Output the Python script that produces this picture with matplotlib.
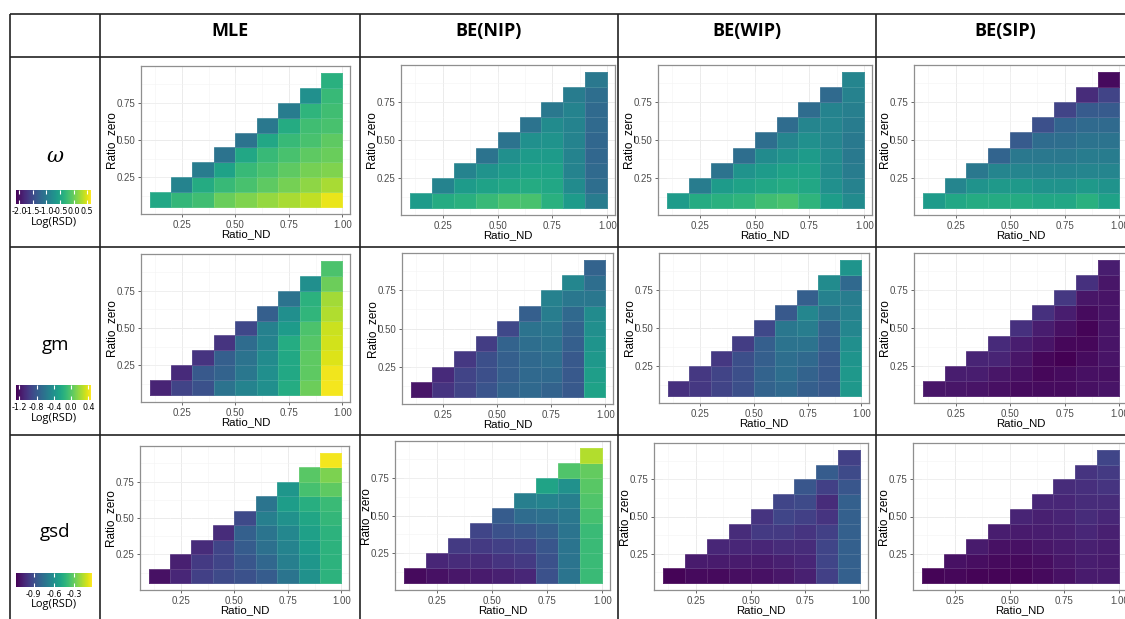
import numpy as np
import matplotlib.pyplot as plt
from matplotlib.colors import Normalize
from matplotlib.cm import ScalarMappable

plt.rcParams['axes.unicode_minus'] = False

W, H = 1125, 619

# grid of simulation settings
nd_centers = [0.15, 0.25, 0.35, 0.45, 0.55, 0.65, 0.75, 0.85, 0.95]
zero_centers = [0.1, 0.2, 0.3, 0.4, 0.5, 0.6, 0.7, 0.8, 0.9]

methods = ['MLE', 'BE(NIP)', 'BE(WIP)', 'BE(SIP)']
param_labels = ['ω', 'gm', 'gsd']

# Log(RSD), one list per Ratio_ND column, from Ratio_zero = 0.1 upward
mle_omega = [
    [-0.48],
    [-0.29, -0.89],
    [-0.21, -0.43, -0.97],
    [0.01, -0.26, -0.53, -1.07],
    [0.11, -0.16, -0.26, -0.48, -1.07],
    [0.20, -0.05, -0.16, -0.26, -0.48, -1.02],
    [0.28, 0.06, -0.05, -0.16, -0.26, -0.43, -0.97],
    [0.38, 0.17, 0.06, -0.05, -0.16, -0.21, -0.32, -0.75],
    [0.55, 0.28, 0.11, 0.01, -0.05, -0.16, -0.21, -0.26, -0.37],
]
nip_omega = [
    [-0.62],
    [-0.43, -0.89],
    [-0.37, -0.62, -0.89],
    [-0.26, -0.53, -0.70, -1.07],
    [-0.16, -0.48, -0.62, -0.75, -1.07],
    [-0.16, -0.43, -0.53, -0.62, -0.75, -1.07],
    [-0.37, -0.48, -0.53, -0.62, -0.70, -0.80, -1.02],
    [-0.62, -0.80, -0.89, -0.89, -0.89, -0.89, -0.89, -0.97],
    [-0.97, -1.13, -1.18, -1.21, -1.21, -1.18, -1.18, -1.13, -1.02],
]
wip_omega = [
    [-0.62],
    [-0.43, -0.97],
    [-0.37, -0.62, -1.07],
    [-0.32, -0.53, -0.70, -1.13],
    [-0.21, -0.48, -0.62, -0.80, -1.13],
    [-0.16, -0.43, -0.53, -0.70, -0.86, -1.16],
    [-0.32, -0.48, -0.53, -0.62, -0.75, -0.86, -1.16],
    [-0.59, -0.75, -0.80, -0.80, -0.86, -0.86, -0.89, -1.18],
    [-0.80, -0.91, -0.97, -1.00, -1.00, -0.97, -0.94, -0.91, -0.86],
]
sip_omega = [
    [-0.62],
    [-0.48, -0.86],
    [-0.43, -0.70, -1.02],
    [-0.43, -0.64, -0.86, -1.24],
    [-0.43, -0.64, -0.86, -1.02, -1.34],
    [-0.48, -0.70, -0.89, -1.02, -1.16, -1.45],
    [-0.48, -0.70, -0.89, -1.02, -1.13, -1.24, -1.56],
    [-0.37, -0.64, -0.86, -0.97, -1.07, -1.18, -1.34, -1.78],
    [-0.53, -0.70, -0.86, -0.97, -1.07, -1.18, -1.34, -1.56, -2.05],
]

mle_gm = [
    [-1.11],
    [-0.93, -1.07],
    [-0.85, -0.80, -1.02],
    [-0.62, -0.73, -0.76, -1.02],
    [-0.50, -0.59, -0.62, -0.67, -0.90],
    [-0.42, -0.42, -0.45, -0.50, -0.52, -0.76],
    [-0.21, -0.24, -0.24, -0.21, -0.33, -0.42, -0.62],
    [0.07, 0.03, 0.03, 0.00, -0.03, -0.14, -0.17, -0.42],
    [0.43, 0.42, 0.37, 0.34, 0.32, 0.25, 0.22, 0.07, -0.03],
]
nip_gm = [
    [-1.18],
    [-1.02, -1.07],
    [-0.93, -0.93, -1.00],
    [-0.83, -0.86, -0.86, -0.97],
    [-0.73, -0.76, -0.76, -0.73, -0.90],
    [-0.69, -0.69, -0.69, -0.66, -0.62, -0.76],
    [-0.73, -0.69, -0.66, -0.62, -0.59, -0.55, -0.52],
    [-0.80, -0.80, -0.80, -0.76, -0.73, -0.69, -0.59, -0.48],
    [-0.28, -0.31, -0.35, -0.38, -0.42, -0.45, -0.59, -0.66, -0.73],
]
wip_gm = [
    [-1.04],
    [-1.00, -1.00],
    [-0.93, -0.93, -1.00],
    [-0.86, -0.86, -0.86, -0.97],
    [-0.73, -0.73, -0.76, -0.76, -0.90],
    [-0.69, -0.66, -0.66, -0.62, -0.59, -0.80],
    [-0.76, -0.73, -0.69, -0.62, -0.55, -0.48, -0.76],
    [-0.80, -0.80, -0.80, -0.76, -0.73, -0.62, -0.52, -0.45],
    [-0.35, -0.35, -0.38, -0.42, -0.48, -0.52, -0.55, -0.69, -0.38],
]
sip_gm = [
    [-1.18],
    [-1.18, -1.14],
    [-1.19, -1.14, -1.11],
    [-1.21, -1.18, -1.11, -1.07],
    [-1.23, -1.21, -1.18, -1.14, -1.04],
    [-1.23, -1.25, -1.25, -1.19, -1.14, -1.04],
    [-1.23, -1.23, -1.28, -1.25, -1.21, -1.14, -1.00],
    [-1.21, -1.21, -1.23, -1.25, -1.26, -1.23, -1.18, -1.04],
    [-1.19, -1.21, -1.19, -1.19, -1.19, -1.19, -1.19, -1.18, -1.14],
]

mle_gsd = [
    [-1.11],
    [-1.04, -1.06],
    [-0.95, -0.97, -1.02],
    [-0.91, -0.93, -0.93, -1.02],
    [-0.88, -0.86, -0.84, -0.82, -0.91],
    [-0.84, -0.79, -0.75, -0.73, -0.68, -0.73],
    [-0.73, -0.68, -0.66, -0.64, -0.60, -0.54, -0.57],
    [-0.60, -0.57, -0.55, -0.53, -0.50, -0.46, -0.37, -0.33],
    [-0.44, -0.44, -0.44, -0.44, -0.42, -0.40, -0.32, -0.26, -0.06],
]
nip_gsd = [
    [-1.13],
    [-1.11, -1.04],
    [-1.09, -1.02, -0.97],
    [-1.08, -1.02, -0.97, -0.93],
    [-1.06, -0.99, -0.95, -0.88, -0.84],
    [-1.04, -0.97, -0.93, -0.86, -0.77, -0.68],
    [-0.88, -0.88, -0.86, -0.82, -0.75, -0.66, -0.51],
    [-0.73, -0.73, -0.73, -0.73, -0.71, -0.68, -0.60, -0.35],
    [-0.40, -0.40, -0.40, -0.40, -0.37, -0.35, -0.33, -0.31, -0.17],
]
wip_gsd = [
    [-1.15],
    [-1.13, -1.08],
    [-1.13, -1.08, -1.04],
    [-1.12, -1.08, -1.04, -1.02],
    [-1.11, -1.08, -1.04, -0.97, -0.99],
    [-1.09, -1.06, -1.02, -0.97, -0.93, -0.93],
    [-1.06, -1.04, -1.02, -0.99, -0.95, -0.91, -0.86],
    [-0.95, -0.93, -0.93, -0.95, -0.99, -1.02, -0.95, -0.84],
    [-0.82, -0.82, -0.82, -0.82, -0.82, -0.82, -0.86, -0.91, -0.95],
]
sip_gsd = [
    [-1.15],
    [-1.14, -1.11],
    [-1.15, -1.12, -1.08],
    [-1.15, -1.13, -1.11, -1.07],
    [-1.15, -1.13, -1.11, -1.08, -1.05],
    [-1.13, -1.12, -1.09, -1.07, -1.06, -1.04],
    [-1.11, -1.09, -1.08, -1.06, -1.05, -1.04, -1.02],
    [-1.08, -1.07, -1.06, -1.04, -1.02, -1.02, -1.01, -0.99],
    [-1.08, -1.08, -1.07, -1.06, -1.04, -1.02, -0.99, -0.97, -0.93],
]

# shared colour range and colourbar ticks for each parameter row
omega_lim = (-2.12, 0.64)
gm_lim = (-1.28, 0.46)
gsd_lim = (-1.16, -0.04)
omega_ticks = [-2.0, -1.5, -1.0, -0.5, 0.0, 0.5]
gm_ticks = [-1.2, -0.8, -0.4, 0.0, 0.4]
gsd_ticks = [-0.9, -0.6, -0.3]

rows = [
    ([mle_omega, nip_omega, wip_omega, sip_omega], omega_lim, omega_ticks),
    ([mle_gm, nip_gm, wip_gm, sip_gm], gm_lim, gm_ticks),
    ([mle_gsd, nip_gsd, wip_gsd, sip_gsd], gsd_lim, gsd_ticks),
]

# panel boxes in pixels: left, top, right, bottom
panel_boxes = [
    [(141, 66, 350, 214), (401, 65, 615, 215), (658, 65, 872, 215), (914, 65, 1127, 215)],
    [(141, 254, 350, 402), (402, 253, 613, 404), (659, 253, 869, 403), (914, 253, 1127, 403)],
    [(140, 446, 349, 590), (395, 441, 610, 590), (654, 443, 868, 590), (913, 443, 1127, 590)],
]
cbar_boxes = [(16, 190, 91, 204), (16, 385, 91, 400), (16, 573, 92, 587)]
row_centers = [157, 345, 532]
col_centers = [230, 489, 747, 1005]


def px_box(l, t, r, b):
    return [l / W, 1 - b / H, (r - l) / W, (b - t) / H]


def to_grid(cols):
    grid = np.full((len(zero_centers), len(nd_centers)), np.nan)
    for i, col in enumerate(cols):
        grid[:len(col), i] = col
    return np.ma.masked_invalid(grid)


x_edges = np.append(np.array(nd_centers) - 0.05, nd_centers[-1] + 0.05)
y_edges = np.append(np.array(zero_centers) - 0.05, zero_centers[-1] + 0.05)

fig = plt.figure(figsize=(W / 100, H / 100), dpi=100)

# table frame, headers and row labels
bg = fig.add_axes([0, 0, 1, 1])
bg.set_xlim(0, W)
bg.set_ylim(H, 0)
bg.axis('off')
line_kw = dict(color='#222222', lw=1.2, solid_capstyle='butt')
for y in [14, 57, 247, 435]:
    bg.plot([10, W], [y, y], **line_kw)
for x in [10, 100, 360, 618, 876]:
    bg.plot([x, x], [14, H], **line_kw)
for name, cx in zip(methods, col_centers):
    bg.text(cx, 31, name, ha='center', va='center', fontsize=13,
            fontweight='bold', family='Open Sans')
bg.text(55, row_centers[0], param_labels[0], ha='center', va='center',
        fontsize=15, style='italic', family='DejaVu Serif')
for lab, cy in zip(param_labels[1:], row_centers[1:]):
    bg.text(55, cy, lab, ha='center', va='center', fontsize=13.5, family='Open Sans')

for r, (panels, lim, cticks) in enumerate(rows):
    norm = Normalize(vmin=lim[0], vmax=lim[1])
    for c, cols in enumerate(panels):
        ax = fig.add_axes(px_box(*panel_boxes[r][c]))
        ax.set_axisbelow(True)
        ax.pcolormesh(x_edges, y_edges, to_grid(cols), cmap='viridis', norm=norm,
                      edgecolors=(1, 1, 1, 0.12), linewidth=0.4)
        ax.set_xlim(0.06, 1.035)
        ax.set_ylim(0.005, 0.995)
        ax.set_xticks([0.25, 0.5, 0.75, 1.0])
        ax.set_xticklabels(['0.25', '0.50', '0.75', '1.00'])
        ax.set_yticks([0.25, 0.5, 0.75])
        ax.set_yticklabels(['0.25', '0.50', '0.75'])
        ax.set_xticks([0.125, 0.375, 0.625, 0.875], minor=True)
        ax.set_yticks([0.125, 0.375, 0.625, 0.875], minor=True)
        ax.grid(which='major', color='#ebebeb', lw=0.7)
        ax.grid(which='minor', color='#f3f3f3', lw=0.4)
        ax.tick_params(which='major', labelsize=7, labelcolor='#4d4d4d',
                       color='#4d4d4d', length=2.5, width=0.6, pad=1.5)
        ax.tick_params(which='minor', length=0)
        for lab in ax.get_xticklabels() + ax.get_yticklabels():
            lab.set_family('Liberation Sans')
        for s in ax.spines.values():
            s.set_color('#8f8f8f')
            s.set_linewidth(0.9)
        ax.set_xlabel('Ratio_ND', fontsize=8.2, family='Liberation Sans', labelpad=0)
        ax.set_ylabel('Ratio_zero', fontsize=8.5, family='Liberation Sans', labelpad=0)

    # horizontal colourbar for the row
    cax = fig.add_axes(px_box(*cbar_boxes[r]))
    cb = fig.colorbar(ScalarMappable(norm=norm, cmap='viridis'), cax=cax,
                      orientation='horizontal')
    cb.outline.set_visible(False)
    cb.set_ticks(cticks)
    cb.set_ticklabels([f'{t:.1f}' for t in cticks])
    cax.tick_params(axis='x', direction='in', color='white', length=3, width=0.8,
                    top=True, bottom=True, labelsize=5.8, labelcolor='black', pad=2)
    l, t, rr, b = cbar_boxes[r]
    bg.text((l + rr) / 2, b + 18, 'Log(RSD)', ha='center', va='center',
            fontsize=8, family='Open Sans')

fig.savefig('out.png', dpi=100)
